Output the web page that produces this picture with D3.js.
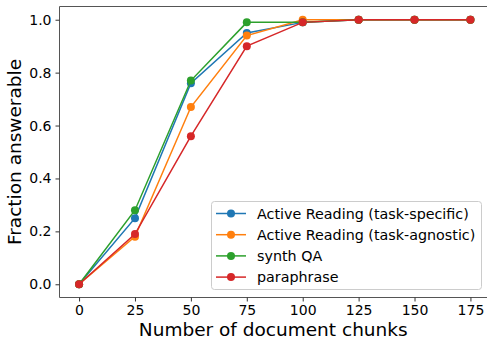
<!DOCTYPE html>
<html>
<head>
<meta charset="utf-8">
<style>
body { margin: 0; background: white; }
text { font-family: "DejaVu Sans", sans-serif; fill: #000; }
</style>
</head>
<body>
<script src="https://d3js.org/d3.v7.min.js"></script>
<script>
var width = 487, height = 342;

// data
var chunks = [0, 25, 50, 75, 100, 125, 150, 175];
var taskSpecific = [0, 0.25, 0.76, 0.95, 0.99, 1, 1, 1];
var taskAgnostic = [0, 0.18, 0.67, 0.94, 1.0, 1, 1, 1];
var synthQA = [0, 0.28, 0.77, 0.99, 0.99, 1, 1, 1];
var paraphrase = [0, 0.19, 0.56, 0.90, 0.99, 1, 1, 1];
var seriesNames = ["Active Reading (task-specific)", "Active Reading (task-agnostic)", "synth QA", "paraphrase"];
var colors = ["#1f77b4", "#ff7f0e", "#2ca02c", "#d62728"];
var xTicks = [0, 25, 50, 75, 100, 125, 150, 175];
var yTicks = [0, 0.2, 0.4, 0.6, 0.8, 1.0];

var series = [taskSpecific, taskAgnostic, synthQA, paraphrase];

var x = d3.scaleLinear().domain([-8.75, 183.75]).range([59.5, 490]);
var y = d3.scaleLinear().domain([-0.05, 1.05]).range([297.5, 6.5]);

var svg = d3.select("body").append("svg")
    .attr("width", width)
    .attr("height", height);

// axes
var xAxis = svg.append("g")
    .attr("transform", "translate(0," + y.range()[0] + ")")
    .call(d3.axisBottom(x).tickValues(xTicks).tickSize(4).tickPadding(4).tickFormat(d3.format("d")));
var yAxis = svg.append("g")
    .attr("transform", "translate(" + x.range()[0] + ",0)")
    .call(d3.axisLeft(y).tickValues(yTicks).tickSize(4).tickPadding(4).tickFormat(d3.format(".1f")));
[xAxis, yAxis].forEach(function(a) {
  a.selectAll("text").style("font-size", "14px").style("font-family", "DejaVu Sans");
  a.selectAll("line").attr("stroke", "#333");
  a.select(".domain").attr("stroke", "#555");
});
xAxis.select(".domain").attr("d", "M" + x.range()[0] + ",0H" + x.range()[1]);
yAxis.select(".domain").attr("d", "M0," + y.range()[0] + "V" + y.range()[1]);

// top spine
svg.append("line")
  .attr("x1", x.range()[0]).attr("x2", x.range()[1])
  .attr("y1", y.range()[1]).attr("y2", y.range()[1])
  .attr("stroke", "#555");

// lines
var line = d3.line()
  .x(function(d, i) { return x(chunks[i]); })
  .y(function(d) { return y(d); });

series.forEach(function(s, k) {
  var g = svg.append("g");
  g.append("path")
    .datum(s)
    .attr("d", line)
    .attr("fill", "none")
    .attr("stroke", colors[k])
    .attr("stroke-width", 1.5);
  g.selectAll("circle")
    .data(s)
    .enter()
    .append("circle")
    .attr("cx", function(d, i) { return x(chunks[i]); })
    .attr("cy", function(d) { return y(d); })
    .attr("r", 4)
    .attr("fill", colors[k]);
});

// axis labels
svg.append("text")
  .attr("x", (x.range()[0] + 487) / 2)
  .attr("y", 336)
  .attr("text-anchor", "middle")
  .style("font-size", "18.5px")
  .text("Number of document chunks");
svg.append("text")
  .attr("transform", "translate(21," + (y.range()[0] + y.range()[1]) / 2 + ") rotate(-90)")
  .attr("text-anchor", "middle")
  .style("font-size", "18.5px")
  .text("Fraction answerable");

// legend
var legend = svg.append("g");
legend.append("rect")
  .attr("x", 211.5).attr("y", 201.5)
  .attr("width", 270).attr("height", 88)
  .attr("rx", 3)
  .attr("fill", "white")
  .attr("fill-opacity", 0.8)
  .attr("stroke", "#ccc");
seriesNames.forEach(function(name, k) {
  var ly = 213.5 + k * 21.2;
  legend.append("line")
    .attr("x1", 216).attr("x2", 246)
    .attr("y1", ly).attr("y2", ly)
    .attr("stroke", colors[k]).attr("stroke-width", 1.5);
  legend.append("circle")
    .attr("cx", 231).attr("cy", ly).attr("r", 4)
    .attr("fill", colors[k]);
  legend.append("text")
    .attr("x", 257).attr("y", ly + 5)
    .style("font-size", "14.3px")
    .text(name);
});
</script>
</body>
</html>
